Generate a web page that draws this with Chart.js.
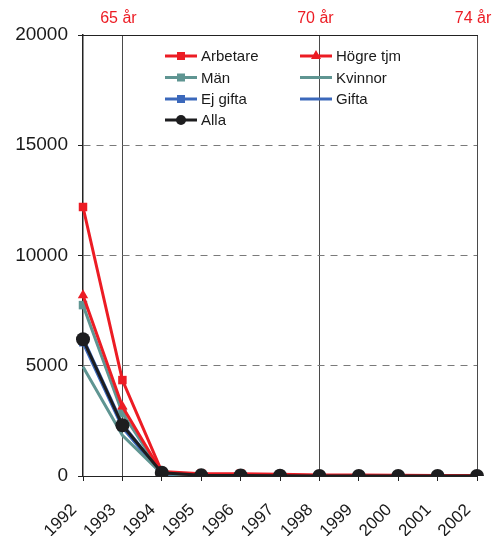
<!DOCTYPE html>
<html>
<head>
<meta charset="utf-8">
<script src="https://cdn.jsdelivr.net/npm/chart.js@4"></script>
<style>
  html, body { margin: 0; padding: 0; background: #fff; }
  #wrap { position: relative; width: 498px; height: 536px; }
</style>
</head>
<body>
<div id="wrap"><canvas id="c" width="498" height="536"></canvas></div>
<script>
// Years on the x axis
const years = ['1992','1993','1994','1995','1996','1997','1998','1999','2000','2001','2002'];

// Age markers shown along the top edge (index into years -> label)
const ageMarkIndex = [1, 6, 10];
const ageMarkLabels = ['65 år', '70 år', '74 år'];

// Series values
const arbetare = [12200, 4350, 200, 100, 100, 80, 50, 40, 30, 20, 20];
const hogreTjm = [8200, 3150, 150, 60, 40, 30, 20, 10, 10, 5, 5];
const man      = [7750, 2850, 130, 50, 30, 20, 10, 5, 5, 0, 0];
const kvinnor  = [4950, 1850, 100, 30, 20, 10, 5, 0, 0, 0, 0];
const ejGifta  = [6050, 2200, 60, 0, 0, 0, 0, 0, 0, 0, 0];
const gifta    = [6250, 2350, 140, 40, 20, 10, 5, 0, 0, 0, 0];
const alla     = [6200, 2300, 150, 30, 20, 10, 5, 0, 0, 0, 0];

const RED = '#ec1c24', TEAL = '#5f9592', BLUE = '#3b68bb', BLACK = '#1d1d1f';
const FONT = "'Liberation Sans', Arial, sans-serif";

function series(label, data, color, style, radius, order) {
  return {
    label, data,
    borderColor: color, backgroundColor: color,
    borderWidth: 3,
    pointStyle: style || 'circle',
    pointRadius: radius, pointHoverRadius: radius,
    pointBorderWidth: 0,
    tension: 0,
    order,
    xAxisID: 'x', yAxisID: 'y'
  };
}

const datasets = [
  series('Arbetare', arbetare, RED, 'rect', 6, 1),
  series('Högre tjm', hogreTjm, RED, 'triangle', 6, 2),
  series('Män', man, TEAL, 'rect', 6, 3),
  series('Kvinnor', kvinnor, TEAL, false, 0, 4),
  series('Ej gifta', ejGifta, BLUE, 'rect', 5.5, 5),
  series('Gifta', gifta, BLUE, false, 0, 6),
  series('Alla', alla, BLACK, 'circle', 7, 0)
];

// Legend arranged in two columns, drawn inside the plot area
const legendColumns = [165, 300];
const legendRows = [56, 77.5, 99, 120];
const legendPlugin = {
  id: 'gridLegend',
  afterDraw(chart) {
    const ctx = chart.ctx;
    ctx.save();
    chart.data.datasets.forEach((ds, i) => {
      const x = legendColumns[i % 2];
      const y = legendRows[Math.floor(i / 2)];
      ctx.strokeStyle = ds.borderColor;
      ctx.lineWidth = 3;
      ctx.beginPath();
      ctx.moveTo(x, y);
      ctx.lineTo(x + 32, y);
      ctx.stroke();
      ctx.fillStyle = ds.borderColor;
      const cx = x + 16;
      if (ds.pointStyle === 'rect') {
        ctx.fillRect(cx - 4, y - 4, 8, 8);
      } else if (ds.pointStyle === 'triangle') {
        ctx.beginPath();
        ctx.moveTo(cx, y - 6);
        ctx.lineTo(cx + 5, y + 3);
        ctx.lineTo(cx - 5, y + 3);
        ctx.closePath();
        ctx.fill();
      } else if (ds.pointStyle === 'circle' && ds.pointRadius > 0) {
        ctx.beginPath();
        ctx.arc(cx, y, 5, 0, Math.PI * 2);
        ctx.fill();
      }
      ctx.fillStyle = '#1a1a1a';
      ctx.font = '15px ' + FONT;
      ctx.textAlign = 'left';
      ctx.textBaseline = 'middle';
      ctx.fillText(ds.label, x + 36, y + 1);
    });
    ctx.restore();
  }
};

new Chart(document.getElementById('c'), {
  type: 'line',
  data: { labels: years, datasets },
  options: {
    responsive: false,
    animation: false,
    events: [],
    layout: { padding: { left: 0, right: 21, top: 0, bottom: 0 } },
    plugins: { legend: { display: false }, tooltip: { enabled: false } },
    scales: {
      x: {
        type: 'category',
        position: 'bottom',
        offset: false,
        grid: { drawOnChartArea: false, drawTicks: true, tickLength: 5, tickColor: '#222', tickWidth: 1 },
        border: { display: true, color: '#222', width: 1 },
        ticks: {
          autoSkip: false, minRotation: 45, maxRotation: 45, padding: 19, labelOffset: -9,
          color: '#1a1a1a', font: { family: FONT, size: 17 }
        },
        afterFit(scale) { scale.height = 60; scale.paddingRight = 0; scale.paddingLeft = 0; }
      },
      xTop: {
        type: 'category',
        position: 'top',
        labels: years,
        offset: false,
        grid: {
          drawOnChartArea: true, drawTicks: false,
          color: (c) => ageMarkIndex.includes(c.index) ? '#4a4a4a' : 'rgba(0,0,0,0)',
          lineWidth: 1
        },
        border: { display: true, color: '#222', width: 1 },
        ticks: {
          autoSkip: false, maxRotation: 0, minRotation: 0, padding: 7, labelOffset: -4,
          color: RED, font: { family: FONT, size: 16 },
          callback: (v, i) => {
            const k = ageMarkIndex.indexOf(i);
            return k >= 0 ? ageMarkLabels[k] : '';
          }
        },
        afterFit(scale) { scale.height = 35; scale.paddingRight = 0; scale.paddingLeft = 0; }
      },
      y: {
        min: 0, max: 20000,
        grid: {
          color: '#7a7a7a', lineWidth: 1,
          drawTicks: true, tickLength: 5, tickColor: '#222', tickWidth: 1, tickBorderDash: []
        },
        border: { display: true, color: '#222', width: 1.5, dash: [7, 6] },
        ticks: {
          stepSize: 5000, padding: 10,
          color: '#1a1a1a', font: { family: FONT, size: 19 },
          callback: (v) => String(v)
        },
        afterFit(scale) { scale.width = 83; }
      }
    }
  },
  plugins: [legendPlugin]
});
</script>
</body>
</html>
